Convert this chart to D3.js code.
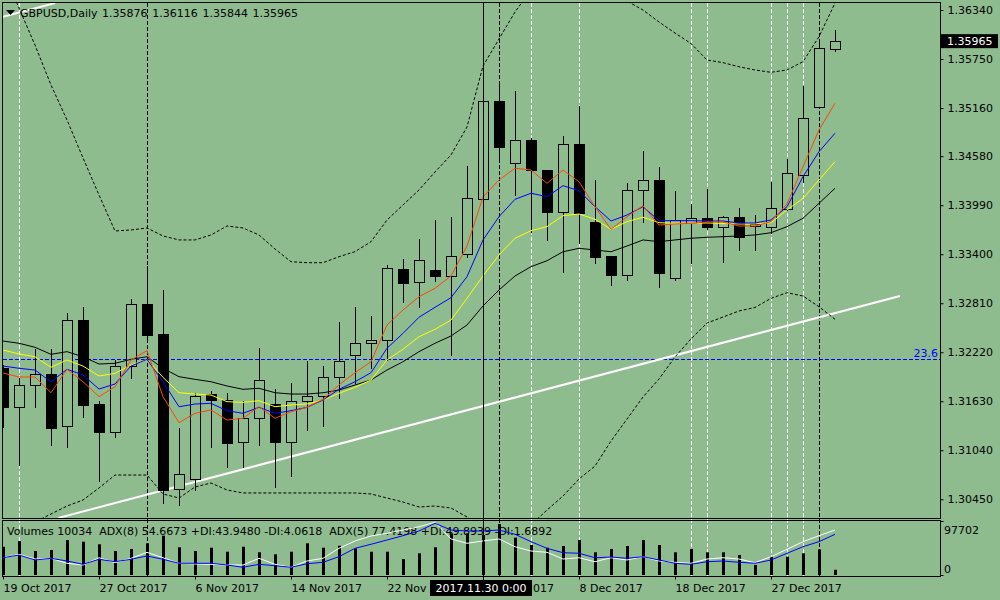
<!DOCTYPE html>
<html>
<head>
<meta charset="utf-8">
<script src="https://cdn.jsdelivr.net/npm/d3@7"></script>
<style>
  body { margin: 0; background: #8fbc8f; }
  svg { display: block; font-family: "DejaVu Sans", sans-serif; font-size: 11px; }
</style>
</head>
<body>
<svg id="chart" width="1000" height="600"></svg>
<script>
// daily bars, GBPUSD
var dates = ["2017-10-19","2017-10-20","2017-10-23","2017-10-24","2017-10-25","2017-10-26","2017-10-27",
  "2017-10-30","2017-10-31","2017-11-01","2017-11-02","2017-11-03","2017-11-06","2017-11-07","2017-11-08",
  "2017-11-09","2017-11-10","2017-11-13","2017-11-14","2017-11-15","2017-11-16","2017-11-17","2017-11-20",
  "2017-11-21","2017-11-22","2017-11-23","2017-11-24","2017-11-27","2017-11-28","2017-11-29","2017-11-30",
  "2017-12-01","2017-12-04","2017-12-05","2017-12-06","2017-12-07","2017-12-08","2017-12-11","2017-12-12",
  "2017-12-13","2017-12-14","2017-12-15","2017-12-18","2017-12-19","2017-12-20","2017-12-21","2017-12-22",
  "2017-12-26","2017-12-27","2017-12-28","2017-12-29","2018-01-02","2018-01-03"];

var open = [1.32030,1.31565,1.31822,1.31955,1.31329,1.32605,1.31593,1.31264,1.32051,1.32801,1.32440,
  1.30570,1.30691,1.31714,1.31642,1.31136,1.31425,1.31593,1.31136,1.31630,1.31690,1.31918,1.32183,1.32328,
  1.32364,1.33219,1.33062,1.33210,1.33142,1.33399,1.34061,1.35241,1.34495,1.34771,1.34410,1.33912,1.34723,
  1.33788,1.33379,1.33146,1.34170,1.34294,1.33117,1.33772,1.33833,1.33731,1.33845,1.33740,1.33724,1.33941,
  1.34350,1.35169,1.35876];
var high = [1.32079,1.31922,1.32271,1.32268,1.32708,1.32777,1.31645,1.32139,1.32877,1.33271,1.32978,
  1.31324,1.31745,1.31766,1.31745,1.31645,1.32287,1.31786,1.31858,1.32127,1.32067,1.32596,1.32777,1.32668,
  1.33282,1.33355,1.33592,1.33824,1.33860,1.34474,1.35485,1.35497,1.35377,1.34815,1.34422,1.34835,1.35196,
  1.34306,1.33391,1.34270,1.34655,1.34462,1.34173,1.34020,1.34194,1.33872,1.33965,1.33884,1.34282,1.34555,
  1.35437,1.35999,1.36116];
var low = [1.31320,1.30863,1.31561,1.31104,1.31083,1.31444,1.30674,1.31203,1.31906,1.32368,1.30409,
  1.30381,1.30562,1.31083,1.30842,1.30842,1.31104,1.30602,1.30730,1.31284,1.31336,1.31666,1.31853,1.32027,
  1.32127,1.32829,1.32768,1.33081,1.32187,1.33370,1.34053,1.34534,1.34113,1.33668,1.33571,1.33190,1.33539,
  1.33298,1.33026,1.33090,1.33792,1.33009,1.33090,1.33294,1.33700,1.33310,1.33451,1.33451,1.33659,1.33932,
  1.34273,1.35160,1.35844];
var close = [1.31561,1.31822,1.31955,1.31312,1.32605,1.31589,1.31264,1.32051,1.32801,1.32431,1.30562,
  1.30751,1.31693,1.31642,1.31131,1.31425,1.31882,1.31136,1.31630,1.31690,1.31918,1.32111,1.32328,1.32364,
  1.33231,1.33057,1.33327,1.33142,1.33375,1.34073,1.35241,1.34694,1.34771,1.34410,1.33912,1.34723,1.33900,
  1.33370,1.33154,1.34170,1.34290,1.33178,1.33808,1.33833,1.33731,1.33845,1.33611,1.33764,1.33953,1.34374,
  1.35036,1.35879,1.35965];
var volume = [54200,65100,46000,47900,67000,63800,58800,46000,49800,60700,75300,53100,46000,52300,44600,
  54200,43500,39700,44600,60700,52300,56100,51100,44600,44600,30700,41600,53100,79900,79900,76600,97702,
  71500,57500,52300,55600,67000,43500,49800,55600,67000,57500,43500,49800,43500,43500,38300,19200,35100,
  35100,41600,49200,10034];

// moving averages on the price window
var maRed = [1.31970,1.31922,1.31922,1.31733,1.32015,1.31865,1.31685,1.31805,1.32127,1.32239,1.31685,
  1.31372,1.31485,1.31525,1.31404,1.31425,1.31564,1.31425,1.31504,1.31557,1.31653,1.31826,1.31974,1.32106,
  1.32548,1.32729,1.32889,1.32990,1.33138,1.33499,1.34089,1.34294,1.34435,1.34414,1.34254,1.34414,1.34273,
  1.33972,1.33700,1.33852,1.33984,1.33752,1.33764,1.33772,1.33788,1.33788,1.33740,1.33740,1.33792,1.34005,
  1.34454,1.34896,1.35217];
var maBlue = [1.32054,1.32027,1.32006,1.31865,1.32015,1.31946,1.31777,1.31838,1.32054,1.32135,1.31865,
  1.31564,1.31597,1.31605,1.31516,1.31485,1.31557,1.31485,1.31516,1.31557,1.31645,1.31774,1.31865,1.31974,
  1.32268,1.32448,1.32641,1.32761,1.32877,1.33130,1.33572,1.33852,1.34061,1.34134,1.34093,1.34225,1.34165,
  1.33972,1.33800,1.33872,1.33972,1.33804,1.33804,1.33804,1.33800,1.33800,1.33776,1.33776,1.33812,1.33972,
  1.34333,1.34635,1.34856];
var maYellow = [1.32247,1.32199,1.32166,1.32039,1.32127,1.32054,1.31934,1.31966,1.32066,1.32135,1.31918,
  1.31733,1.31717,1.31705,1.31625,1.31617,1.31637,1.31564,1.31585,1.31597,1.31645,1.31726,1.31798,1.31886,
  1.32127,1.32256,1.32407,1.32496,1.32608,1.32869,1.33138,1.33391,1.33592,1.33683,1.33732,1.33864,1.33884,
  1.33821,1.33700,1.33792,1.33845,1.33780,1.33772,1.33772,1.33776,1.33770,1.33764,1.33764,1.33780,1.33933,
  1.34073,1.34294,1.34514];
var maBlack = [1.32355,1.32328,1.32280,1.32195,1.32227,1.32166,1.32078,1.32087,1.32135,1.32166,1.32027,
  1.31926,1.31894,1.31865,1.31814,1.31774,1.31786,1.31733,1.31717,1.31717,1.31733,1.31765,1.31826,1.31886,
  1.32006,1.32106,1.32227,1.32328,1.32416,1.32548,1.32777,1.32969,1.33138,1.33250,1.33322,1.33430,1.33471,
  1.33451,1.33430,1.33499,1.33572,1.33551,1.33572,1.33592,1.33604,1.33611,1.33620,1.33632,1.33659,1.33732,
  1.33833,1.34013,1.34194];
var bandUpper = [1.36821,1.36364,1.35918,1.35437,1.35016,1.34559,1.34113,1.33680,1.33692,1.33716,1.33620,
  1.33572,1.33572,1.33632,1.33740,1.33716,1.33632,1.33463,1.33310,1.33298,1.33298,1.33370,1.33431,1.33551,
  1.33812,1.33993,1.34174,1.34390,1.34595,1.34932,1.35666,1.35991,1.36316,1.36581,1.36821,1.36942,1.36942,
  1.36821,1.36641,1.36448,1.36340,1.36196,1.36063,1.35937,1.35738,1.35706,1.35657,1.35618,1.35590,1.35618,
  1.35718,1.36019,1.36424];
var bandLower = [1.30080,1.30104,1.30176,1.30273,1.30369,1.30441,1.30586,1.30742,1.30742,1.30742,1.30514,
  1.30465,1.30598,1.30646,1.30562,1.30526,1.30526,1.30526,1.30526,1.30526,1.30526,1.30526,1.30526,1.30514,
  1.30465,1.30417,1.30357,1.30369,1.30345,1.30237,1.30104,1.29996,1.29996,1.30141,1.30321,1.30489,1.30694,
  1.30850,1.31151,1.31416,1.31681,1.31898,1.32163,1.32380,1.32572,1.32644,1.32717,1.32759,1.32869,1.32937,
  1.32897,1.32768,1.32617];

// ADX lines in the volume window
var adxWhite = [32.0,38.3,29.6,30.9,21.7,18.5,32.0,22.8,30.9,42.0,32.0,21.7,20.4,19.8,18.5,18.5,30.9,19.8,
  14.3,25.9,30.9,49.4,63.0,72.2,77.2,83.3,89.4,97.6,66.7,58.7,63.0,66.7,52.4,44.4,42.0,29.6,32.0,24.6,32.0,
  27.8,33.9,25.9,23.5,21.7,29.6,32.0,29.6,22.8,33.9,47.6,61.7,72.8,83.3];
var adxBlue = [32.0,37.0,27.8,30.9,25.9,19.8,29.1,24.6,29.1,35.2,29.1,21.7,21.7,21.7,18.5,14.3,19.8,17.2,
  14.3,20.9,23.5,33.9,49.4,56.9,64.8,72.8,81.5,95.7,83.3,81.5,81.5,83.3,75.4,61.7,49.4,41.3,40.2,32.0,33.3,
  30.9,33.9,27.8,21.7,19.8,24.6,25.9,23.5,21.7,27.8,40.2,52.4,61.7,75.4];

var priceTicks = [1.36340,1.35750,1.35160,1.34580,1.33990,1.33400,1.32810,1.32220,1.31630,1.31040,1.30450];
var timeTicks = ["2017-10-19","2017-10-27","2017-11-06","2017-11-14","2017-11-22","2017-11-30",
  "2017-12-08","2017-12-18","2017-12-27"];
var volMax = 97702;

// objects drawn on the chart
var whiteVLines = ["2017-10-20","2017-12-05","2017-12-08","2017-12-19","2017-12-20","2017-12-27","2017-12-28","2017-12-29"];
var blackVLines = ["2017-11-01","2017-12-01","2018-01-02"];
var cursorDate = "2017-11-30";
var fibPrice = 1.32135, fibLabel = "23.6";
var trendIdx = [3.46, 56.06], trendPrice = [1.30225, 1.32897];
var channelIdx = [0, 3.25], channelPrice = [1.36259, 1.36424];
var indicatorLabel = "Volumes 10034  ADX(8) 54.6673 +DI:43.9480 -DI:4.0618  ADX(5) 77.4198 +DI:49.8939 -DI:1.6892";

var bg = "#8fbc8f";
var svg = d3.select("#chart");
var parse = d3.timeParse("%Y-%m-%d");
var fmtTick = d3.timeFormat("%-d %b %Y");
var fmtCursor = d3.timeFormat("%Y.%m.%d %-H:%M");
var f5 = d3.format(".5f");
var last = dates.length - 1;

var x = d3.scalePoint().domain(dates).range([3, 835]);
var xi = d3.scaleLinear().domain([0, last]).range([3, 835]);
var y = d3.scaleLinear().domain([1.302247, 1.364604]).range([518, 0]);
var yVol = d3.scaleLinear().domain([0, volMax]).range([575, 524]);
var yAdx = d3.scaleLinear().domain([0, 100]).range([575, 521]);

function px(v) { return Math.round(v) + 0.5; }

svg.append("rect").attr("width", 1000).attr("height", 600).attr("fill", bg);

var defs = svg.append("defs");
defs.append("clipPath").attr("id", "clipMain").append("rect")
  .attr("x", 3).attr("y", 3).attr("width", 937).attr("height", 515);
defs.append("clipPath").attr("id", "clipInd").append("rect")
  .attr("x", 3).attr("y", 521).attr("width", 937).attr("height", 55);

// vertical line objects (behind bars), through both windows
var vl = svg.append("g");
vl.selectAll(".vw").data(whiteVLines).enter().append("line")
  .attr("x1", function (d) { return px(x(d)); })
  .attr("x2", function (d) { return px(x(d)); })
  .attr("y1", 3).attr("y2", 576)
  .attr("stroke", "#fff").attr("stroke-dasharray", "4,2");
vl.selectAll(".vb").data(blackVLines).enter().append("line")
  .attr("x1", function (d) { return px(x(d)); })
  .attr("x2", function (d) { return px(x(d)); })
  .attr("y1", 3).attr("y2", 576)
  .attr("stroke", "#000").attr("stroke-dasharray", "4,2");

var main = svg.append("g").attr("clip-path", "url(#clipMain)");

// fibo level
main.append("line")
  .attr("x1", 3).attr("x2", 940)
  .attr("y1", px(y(fibPrice))).attr("y2", px(y(fibPrice)))
  .attr("stroke", "#0000ff").attr("stroke-dasharray", "4,2");
main.append("text")
  .attr("x", 938).attr("y", px(y(fibPrice)) - 3)
  .attr("text-anchor", "end").attr("fill", "#0000ff")
  .text(fibLabel);

// trend channel
main.append("line")
  .attr("x1", xi(trendIdx[0])).attr("y1", y(trendPrice[0]))
  .attr("x2", xi(trendIdx[1])).attr("y2", y(trendPrice[1]))
  .attr("stroke", "#fff").attr("stroke-width", 2);
main.append("line")
  .attr("x1", xi(channelIdx[0])).attr("y1", y(channelPrice[0]))
  .attr("x2", xi(channelIdx[1])).attr("y2", y(channelPrice[1]))
  .attr("stroke", "#fff").attr("stroke-width", 2);

// candles
main.selectAll(".wick").data(dates).enter().append("line")
  .attr("x1", function (d) { return px(x(d)); })
  .attr("x2", function (d) { return px(x(d)); })
  .attr("y1", function (d, i) { return px(y(high[i])); })
  .attr("y2", function (d, i) { return px(y(low[i])); })
  .attr("stroke", "#000").attr("shape-rendering", "crispEdges");

main.selectAll(".body").data(dates).enter().append("rect")
  .attr("x", function (d) { return x(d) - 4.5; })
  .attr("width", 10)
  .attr("y", function (d, i) { return px(y(Math.max(open[i], close[i]))); })
  .attr("height", function (d, i) {
    return Math.max(1, px(y(Math.min(open[i], close[i]))) - px(y(Math.max(open[i], close[i]))));
  })
  .attr("fill", function (d, i) { return close[i] >= open[i] ? bg : "#000"; })
  .attr("stroke", "#000").attr("shape-rendering", "crispEdges");

// indicators over the bars
var line = d3.line()
  .x(function (d, i) { return x(dates[i]); })
  .y(function (d) { return y(d); });

[[bandUpper, "#000", "3,2"], [bandLower, "#000", "3,2"],
 [maBlack, "#000", null], [maYellow, "#ffff00", null],
 [maBlue, "#0000ff", null], [maRed, "#ff4500", null]].forEach(function (s) {
  main.append("path")
    .attr("d", line(s[0]))
    .attr("fill", "none")
    .attr("stroke", s[1])
    .attr("stroke-dasharray", s[2]);
});

// indicator window
var ind = svg.append("g").attr("clip-path", "url(#clipInd)");
ind.append("text")
  .attr("x", 7).attr("y", 535)
  .style("white-space", "pre")
  .text(indicatorLabel);

ind.selectAll(".vol").data(dates).enter().append("line")
  .attr("x1", function (d) { return px(x(d)); })
  .attr("x2", function (d) { return px(x(d)); })
  .attr("y1", yVol(0))
  .attr("y2", function (d, i) { return yVol(volume[i]); })
  .attr("stroke", "#000").attr("stroke-width", 3);

var adxLine = d3.line()
  .x(function (d, i) { return x(dates[i]); })
  .y(function (d) { return yAdx(d); });
ind.append("path").attr("d", adxLine(adxWhite)).attr("fill", "none").attr("stroke", "#fff");
ind.append("path").attr("d", adxLine(adxBlue)).attr("fill", "none").attr("stroke", "#0000ff");

// cursor line
svg.append("line")
  .attr("x1", px(x(cursorDate))).attr("x2", px(x(cursorDate)))
  .attr("y1", 3).attr("y2", 580)
  .attr("stroke", "#000");

// window borders
svg.append("rect").attr("x", 2.5).attr("y", 2.5).attr("width", 938).attr("height", 516)
  .attr("fill", "none").attr("stroke", "#000");
svg.append("rect").attr("x", 2.5).attr("y", 520.5).attr("width", 938).attr("height", 56)
  .attr("fill", "none").attr("stroke", "#000");

// price axis
var yAxis = svg.append("g")
  .attr("transform", "translate(940.5,0)")
  .call(d3.axisRight(y).tickValues(priceTicks).tickSize(3).tickPadding(4).tickFormat(f5));
yAxis.select(".domain").remove();
yAxis.selectAll("text").attr("fill", "#000").style("font-family", "DejaVu Sans").style("font-size", "11px");
yAxis.selectAll("line").attr("stroke", "#000");

// volume scale labels
var volAxis = svg.append("g");
[[volMax, 534], [0, 572.5]].forEach(function (v) {
  volAxis.append("text").attr("x", 944).attr("y", v[1]).text(v[0]);
});
[volMax, 0].forEach(function (v) {
  volAxis.append("line")
    .attr("x1", 940.5).attr("x2", 943.5)
    .attr("y1", px(v === 0 ? yVol(0) : 521)).attr("y2", px(v === 0 ? yVol(0) : 521))
    .attr("stroke", "#000");
});

// time axis
var xAxis = svg.append("g")
  .attr("transform", "translate(0,576.5)")
  .call(d3.axisBottom(x).tickValues(timeTicks).tickSize(3).tickPadding(5)
    .tickFormat(function (d) { return fmtTick(parse(d)); }));
xAxis.select(".domain").remove();
xAxis.selectAll("text").attr("text-anchor", "start").attr("fill", "#000")
  .style("font-family", "DejaVu Sans").style("font-size", "11px");
xAxis.selectAll("line").attr("stroke", "#000");

// cursor time label
var cx = x(cursorDate);
svg.append("rect").attr("x", cx - 53).attr("y", 580).attr("width", 102).attr("height", 16).attr("fill", "#000");
svg.append("text").attr("x", cx - 2).attr("y", 592).attr("text-anchor", "middle").attr("fill", "#fff")
  .text(fmtCursor(parse(cursorDate)));

// last price label
var yc = y(close[last]);
svg.append("rect").attr("x", 941).attr("y", yc - 7).attr("width", 57).attr("height", 14).attr("fill", "#000");
svg.append("text").attr("x", 947).attr("y", yc + 4).attr("fill", "#fff").text(f5(close[last]));

// header
svg.append("path").attr("d", "M6,10L15,10L10.5,15Z").attr("fill", "#000");
svg.append("text").attr("x", 20).attr("y", 17).text("GBPUSD,Daily");
[open[last], high[last], low[last], close[last]].forEach(function (v, i) {
  svg.append("text").attr("x", 102 + i * 50.2).attr("y", 17).text(f5(v));
});
</script>
</body>
</html>
